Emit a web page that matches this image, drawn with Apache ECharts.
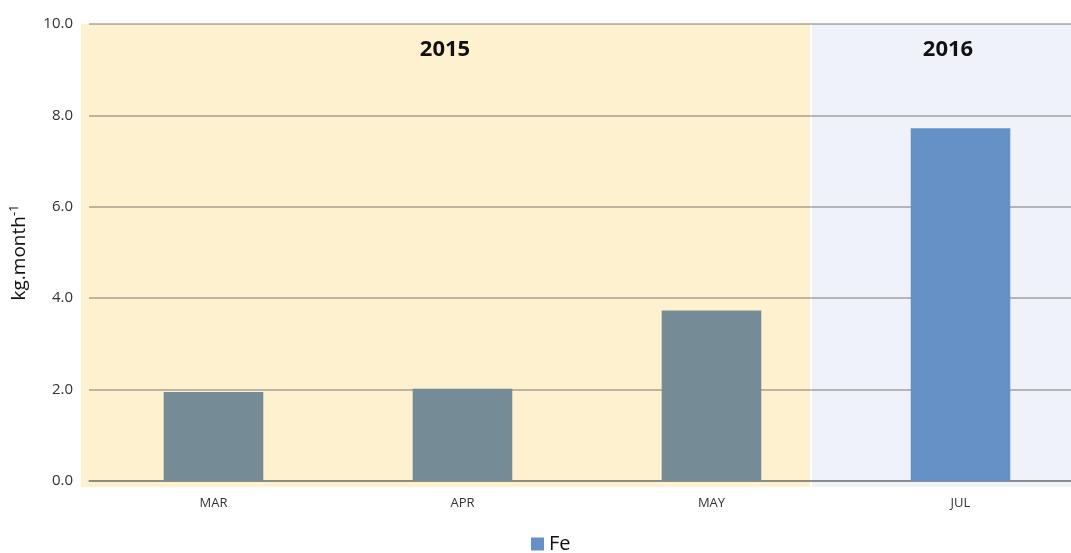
<!DOCTYPE html>
<html>
<head>
<meta charset="utf-8">
<script src="https://cdn.jsdelivr.net/npm/echarts@6/dist/echarts.min.js"></script>
<style>
  html, body { margin: 0; padding: 0; background: #fff; }
  #main { width: 1071px; height: 553px; }
</style>
</head>
<body>
<div id="main"></div>
<script>
const months = ['MAR', 'APR', 'MAY', 'JUL']
const years = ['2015', '2015', '2015', '2016']
const fe = [1.95, 2.02, 3.73, 7.72]
const yTicks = [0, 2, 4, 6, 8, 10]

const chart = echarts.init(document.getElementById('main'))

chart.setOption({
  animation: false,
  textStyle: { fontFamily: 'Open Sans, Noto Sans, sans-serif' },
  graphic: [
    // year background bands
    { type: 'rect', z: -10, shape: { x: 81, y: 24, width: 729, height: 463 }, style: { fill: '#fef1cf' } },
    { type: 'rect', z: -10, shape: { x: 812, y: 24, width: 259, height: 463 }, style: { fill: '#eff3f9' } },
    { type: 'text', z: 10, x: 445, y: 50, style: { text: '2015', fill: '#111', font: 'bold 22px "Open Sans", sans-serif', textAlign: 'center', textVerticalAlign: 'middle' } },
    { type: 'text', z: 10, x: 948, y: 50, style: { text: '2016', fill: '#111', font: 'bold 22px "Open Sans", sans-serif', textAlign: 'center', textVerticalAlign: 'middle' } }
  ],
  grid: { left: 89, right: -14, top: 24, bottom: 72, outerBoundsMode: 'none' },
  legend: {
    bottom: -6,
    left: 526,
    icon: 'rect',
    itemWidth: 13,
    itemHeight: 13,
    itemGap: 6,
    textStyle: { fontSize: 20, color: '#111' },
    data: ['Fe']
  },
  xAxis: {
    type: 'category',
    data: months,
    axisTick: { show: false },
    axisLine: { lineStyle: { color: 'rgba(80,80,80,0.55)', width: 1.5 } },
    axisLabel: { fontSize: 13, color: '#333', margin: 16 }
  },
  yAxis: {
    type: 'value',
    min: yTicks[0],
    max: yTicks[yTicks.length - 1],
    interval: 2,
    name: '{a|kg.month}{s|-1}',
    nameLocation: 'middle',
    nameGap: 58,
    nameRotate: 90,
    nameTextStyle: {
      rich: {
        a: { fontSize: 19, color: '#111' },
        s: { fontSize: 13, color: '#111', padding: [0, 0, 10, 0] }
      }
    },
    axisLine: { show: false },
    axisTick: { show: false },
    axisLabel: { fontSize: 15, color: '#333', margin: 16, formatter: v => v.toFixed(1) },
    splitLine: { lineStyle: { color: 'rgba(80,80,80,0.5)', width: 1.5 } }
  },
  series: [
    {
      name: 'Fe',
      type: 'bar',
      barWidth: '40%',
      itemStyle: { color: '#6591c7' },
      data: fe.map((v, i) => ({
        value: v,
        itemStyle: { color: years[i] === '2015' ? '#758b95' : '#6591c7' }
      }))
    }
  ]
})
</script>
</body>
</html>
